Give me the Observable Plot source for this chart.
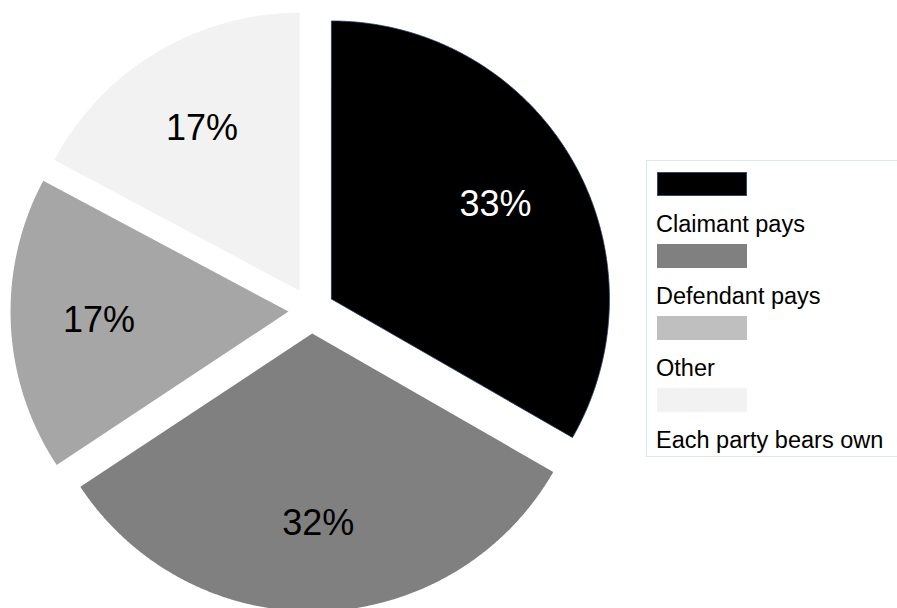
<!DOCTYPE html>
<html>
<head>
<meta charset="utf-8">
<script src="https://cdn.jsdelivr.net/npm/d3@7"></script>
<script src="https://cdn.jsdelivr.net/npm/@observablehq/plot@0.6"></script>
<style>
  html, body { margin: 0; padding: 0; background: #fff; overflow: hidden; }
  #wrap { position: relative; width: 897px; height: 608px; font-family: "Liberation Sans", Arial, sans-serif; }
  #legend { position: absolute; left: 646px; top: 160px; width: 270px; height: 297px; border: 1px solid #dde9e9; box-sizing: border-box; }
  .sw { position: absolute; left: 10px; width: 90px; height: 24px; box-sizing: border-box; }
  .lt { position: absolute; left: 9px; font-size: 23.5px; line-height: 22px; color: #000; white-space: nowrap; }
</style>
</head>
<body>
<div id="wrap"></div>
<script>
// ---- data ----
const categories = ["Claimant pays", "Defendant pays", "Other", "Each party bears own"];
const shares = [33.3, 32.4, 17.1, 17.2];
const pieColors = ["#000000", "#808080", "#a6a6a6", "#f2f2f2"];
const legendColors = ["#000000", "#808080", "#bfbfbf", "#f2f2f2"];
const labelColors = ["#ffffff", "#000000", "#000000", "#000000"];

// ---- layout ----
const W = 897, H = 608;
const cx = 311, cy = 310, R = 278;      // pixel centre and radius
const explode = 23 / R;                  // in radius units
const labelR = 0.765;

const rows = categories.map((c, i) => ({cat: c, share: shares[i]}));
const arcs = d3.pie().sort(null).value(d => d.share)(rows);

const pts = [];
const labels = [];
arcs.forEach(a => {
  const mid = (a.startAngle + a.endAngle) / 2;
  const ox = explode * Math.sin(mid), oy = explode * Math.cos(mid);
  pts.push({cat: a.data.cat, x: ox, y: oy});
  const n = Math.max(2, Math.ceil((a.endAngle - a.startAngle) / 0.005));
  for (let k = 0; k <= n; k++) {
    const t = a.startAngle + (a.endAngle - a.startAngle) * k / n;
    pts.push({cat: a.data.cat, x: ox + Math.sin(t), y: oy + Math.cos(t)});
  }
  pts.push({cat: a.data.cat, x: ox, y: oy});
  labels.push({
    cat: a.data.cat,
    x: labelR * Math.sin(mid),
    y: labelR * Math.cos(mid),
    text: Math.round(a.data.share) + "%"
  });
});

const chart = Plot.plot({
  width: W, height: H,
  margin: 0,
  x: {domain: [-cx / R, (W - cx) / R], range: [0, W], axis: null},
  y: {domain: [(cy - H) / R, cy / R], range: [H, 0], axis: null},
  color: {domain: categories, range: pieColors},
  marks: [
    ...categories.map((c, i) => Plot.line(pts.filter(p => p.cat === c), {
      x: "x", y: "y",
      fill: pieColors[i],
      stroke: i === 0 ? "#1f3a5a" : "none",
      strokeWidth: 0.8
    })),
    Plot.text(labels, {
      x: "x", y: "y", text: "text",
      fill: d => labelColors[categories.indexOf(d.cat)],
      fontSize: 36,
      fontFamily: "Liberation Sans, Arial, sans-serif"
    })
  ]
});

const wrap = document.getElementById("wrap");
wrap.appendChild(chart);

// ---- legend ----
const leg = document.createElement("div");
leg.id = "legend";
categories.forEach((c, i) => {
  const top = 11 + i * 72;
  const sw = document.createElement("div");
  sw.className = "sw";
  sw.style.top = top + "px";
  sw.style.background = legendColors[i];
  if (i === 0) sw.style.border = "1px solid #2f4a6a";
  leg.appendChild(sw);
  const t = document.createElement("div");
  t.className = "lt";
  t.style.top = (top + 41) + "px";
  t.textContent = c;
  leg.appendChild(t);
});
wrap.appendChild(leg);
</script>
</body>
</html>
